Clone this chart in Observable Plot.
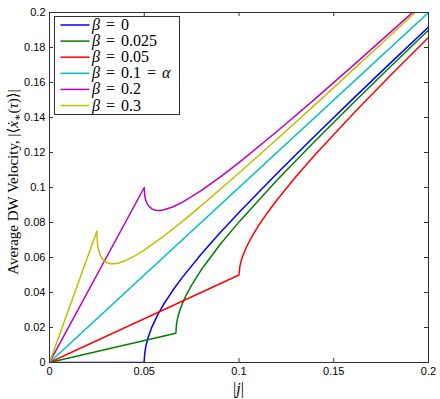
<!DOCTYPE html>
<html>
<head>
<meta charset="utf-8">
<script src="https://cdn.jsdelivr.net/npm/d3@7"></script>
<script src="https://cdn.jsdelivr.net/npm/@observablehq/plot@0.6"></script>
<style>
  html, body { margin: 0; padding: 0; background: #fff; }
</style>
</head>
<body>
<script>
// Series: beta values, legend labels, colours
const seriesNames = ["0", "0.025", "0.05", "0.1", "0.2", "0.3"];
const legendLabels = [" = 0", " = 0.025", " = 0.05", " = 0.1 = ", " = 0.2", " = 0.3"];
const colors = ["#0000ff", "#008000", "#ff0000", "#00bfbf", "#bf00bf", "#bfbf00"];

// β = 0
const j0 = [0, 0.05, 0.0502, 0.0505, 0.051, 0.052, 0.054, 0.057, 0.06, 0.065, 0.07, 0.08, 0.09, 0.1, 0.12, 0.14, 0.16, 0.18, 0.2];
const v0 = [0, 0, 0.00443, 0.00702, 0.00995, 0.01414, 0.02019, 0.0271, 0.03284, 0.04112, 0.04851, 0.06183, 0.07409, 0.08574, 0.10801, 0.12947, 0.15048, 0.1712, 0.19173];
// β = 0.025
const j1 = [0, 0.06667, 0.067, 0.0675, 0.068, 0.069, 0.07, 0.072, 0.075, 0.08, 0.09, 0.1, 0.12, 0.14, 0.16, 0.18, 0.2];
const v1 = [0, 0.01667, 0.02171, 0.02473, 0.02695, 0.03046, 0.03335, 0.0382, 0.04426, 0.05284, 0.0674, 0.08035, 0.10409, 0.12642, 0.14801, 0.16916, 0.19002];
// β = 0.05
const j2 = [0, 0.1, 0.1005, 0.101, 0.102, 0.104, 0.107, 0.11, 0.115, 0.12, 0.13, 0.14, 0.16, 0.18, 0.2];
const v2 = [0, 0.05, 0.05521, 0.05752, 0.06095, 0.06614, 0.07234, 0.07769, 0.08561, 0.09284, 0.10612, 0.11851, 0.14183, 0.16409, 0.18575];
// β = 0.1 = α
const j3 = [0, 0.2];
const v3 = [0, 0.2];
// β = 0.2
const j4 = [0, 0.05, 0.0502, 0.0505, 0.051, 0.052, 0.054, 0.056, 0.058, 0.06, 0.065, 0.07, 0.08, 0.09, 0.1, 0.12, 0.14, 0.16, 0.18, 0.19, 0.2];
const v4 = [0, 0.1, 0.09597, 0.09398, 0.09205, 0.08986, 0.0878, 0.08703, 0.0869, 0.08716, 0.08888, 0.09149, 0.09817, 0.10591, 0.11425, 0.13199, 0.15053, 0.16952, 0.1888, 0.19851, 0.20827];
// β = 0.3
const j5 = [0, 0.025, 0.0251, 0.02525, 0.0255, 0.026, 0.027, 0.028, 0.029, 0.03, 0.032, 0.034, 0.036, 0.04, 0.045, 0.05, 0.06, 0.07, 0.08, 0.1, 0.12, 0.14, 0.16, 0.18, 0.2];
const v5 = [0, 0.075, 0.07087, 0.06873, 0.06655, 0.06386, 0.0608, 0.05903, 0.0579, 0.05716, 0.05645, 0.05637, 0.0567, 0.05817, 0.06091, 0.06425, 0.07199, 0.08053, 0.08952, 0.10827, 0.12759, 0.14723, 0.16706, 0.18702, 0.20707];

const xTicks = [0, 0.05, 0.1, 0.15, 0.2];
const yTicks = [0, 0.02, 0.04, 0.06, 0.08, 0.1, 0.12, 0.14, 0.16, 0.18, 0.2];
const xTickLabels = ["0", "0.05", "0.1", "0.15", "0.2"];
const yTickLabels = ["0", "0.02", "0.04", "0.06", "0.08", "0.1", "0.12", "0.14", "0.16", "0.18", "0.2"];

const js = [j0, j1, j2, j3, j4, j5];
const vs = [v0, v1, v2, v3, v4, v5];
const rows = js.map((jj, k) => jj.map((j, i) => ({j, v: vs[k][i], s: seriesNames[k]})));

const W = 440, H = 399, mL = 49, mR = 12, mT = 12, mB = 37;
const pw = W - mL - mR, ph = H - mT - mB;
const tickLen = 4;
const axisColor = "#333";
const sans = "Liberation Sans, Arial, sans-serif";
const serif = "Liberation Serif, DejaVu Serif, serif";

const plot = Plot.plot({
  width: W, height: H,
  marginLeft: mL, marginRight: mR, marginTop: mT, marginBottom: mB,
  style: {background: "#fff", overflow: "visible"},
  x: {domain: [0, 0.2]},
  y: {domain: [0, 0.2]},
  marks: [
    ...rows.map((r, k) => Plot.line(r, {x: "j", y: "v", stroke: colors[k], strokeWidth: 1.5, clip: true})),
    Plot.frame({stroke: axisColor}),
    Plot.tickX(xTicks, {x: d => d, stroke: axisColor, insetTop: ph - tickLen}),
    Plot.tickX(xTicks, {x: d => d, stroke: axisColor, insetBottom: ph - tickLen}),
    Plot.tickY(yTicks, {y: d => d, stroke: axisColor, insetRight: pw - tickLen}),
    Plot.tickY(yTicks, {y: d => d, stroke: axisColor, insetLeft: pw - tickLen}),
    Plot.axisX({ticks: xTicks, tickSize: 0, tickPadding: 5, tickFormat: (d, i) => xTickLabels[i], fontSize: 11, fontFamily: sans, label: null, color: "#000"}),
    Plot.axisY({ticks: yTicks, tickSize: 0, tickPadding: 4, tickFormat: (d, i) => yTickLabels[i], fontSize: 11, fontFamily: sans, label: null, color: "#000"})
  ]
});

const svg = d3.select(plot);
const ylab = svg.append("text")
  .attr("transform", "translate(18,182) rotate(-90)")
  .attr("text-anchor", "middle")
  .attr("font-family", serif)
  .attr("font-size", 15)
  .attr("fill", "#000");
ylab.append("tspan").text("Average DW Velocity, |⟨");
ylab.append("tspan").attr("font-style", "italic").text("ẋ");
ylab.append("tspan").attr("font-size", 11).attr("dy", 3).text("∗");
ylab.append("tspan").attr("dy", -3).text("(");
ylab.append("tspan").attr("font-style", "italic").text("τ");
ylab.append("tspan").text(")⟩|");

const xlab = svg.append("text")
  .attr("x", mL + pw / 2).attr("y", 394)
  .attr("text-anchor", "middle")
  .attr("font-family", serif)
  .attr("font-size", 16)
  .attr("fill", "#000");
xlab.append("tspan").text("|");
xlab.append("tspan").attr("font-style", "italic").text("j");
xlab.append("tspan").text("|");

// legend inside the axes, top-left
const lg = svg.append("g").attr("transform", "translate(54.5,16.5)");
lg.append("rect").attr("x", 0).attr("y", 0).attr("width", 125).attr("height", 98)
  .style("fill", "#ffffff").style("stroke", "#333333").style("stroke-width", "1px");
legendLabels.forEach((lab, k) => {
  const cy = 8.5 + 16.1 * k;
  lg.append("line").attr("x1", 6).attr("x2", 35).attr("y1", cy).attr("y2", cy)
    .style("stroke", colors[k]).style("stroke-width", "1.5px");
  const t = lg.append("text").attr("x", 37.5).attr("y", cy + 5)
    .attr("text-anchor", "start")
    .attr("font-family", serif).attr("font-size", 16).attr("fill", "#000")
    .attr("xml:space", "preserve").style("white-space", "pre").attr("word-spacing", 2);
  t.append("tspan").attr("font-style", "italic").text("β");
  t.append("tspan").text(lab);
  if (k === 3) t.append("tspan").attr("font-style", "italic").text("α");
});

document.body.appendChild(plot);
</script>
</body>
</html>
